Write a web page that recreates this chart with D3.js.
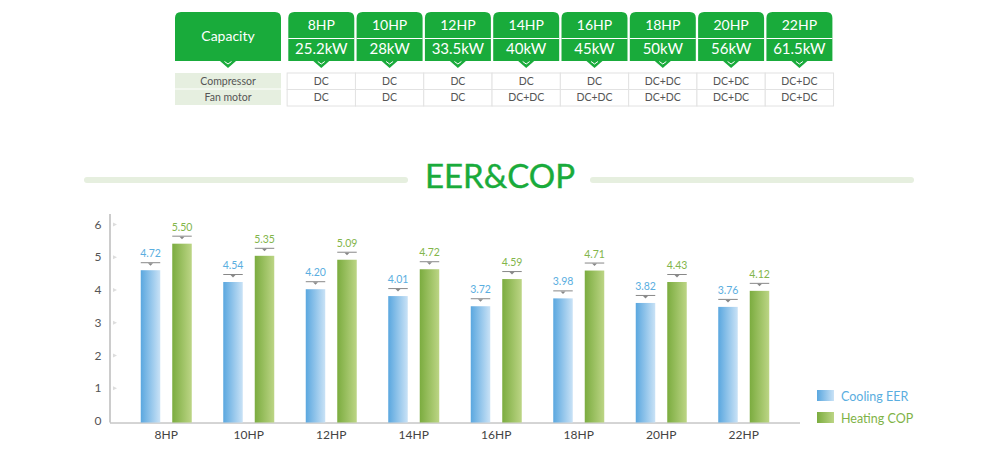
<!DOCTYPE html>
<html>
<head>
<meta charset="utf-8">
<script src="https://cdn.jsdelivr.net/npm/d3@7"></script>
<style>
  body { margin: 0; background: #fff; }
  svg { display: block; font-family: Lato, "Open Sans", sans-serif; }
</style>
</head>
<body>
<svg id="chart" width="1000" height="458"></svg>
<script>
// table data
const models = ['8HP', '10HP', '12HP', '14HP', '16HP', '18HP', '20HP', '22HP'];
const capacities = ['25.2kW', '28kW', '33.5kW', '40kW', '45kW', '50kW', '56kW', '61.5kW'];
const compressor = ['DC', 'DC', 'DC', 'DC', 'DC', 'DC+DC', 'DC+DC', 'DC+DC'];
const fanMotor = ['DC', 'DC', 'DC', 'DC+DC', 'DC+DC', 'DC+DC', 'DC+DC', 'DC+DC'];

// chart data: printed labels and drawn bar heights (as in the picture)
const eerLabels = ['4.72', '4.54', '4.20', '4.01', '3.72', '3.98', '3.82', '3.76'];
const copLabels = ['5.50', '5.35', '5.09', '4.72', '4.59', '4.71', '4.43', '4.12'];
const eerBars = [4.65, 4.29, 4.07, 3.86, 3.55, 3.79, 3.65, 3.53];
const copBars = [5.46, 5.09, 4.97, 4.68, 4.38, 4.64, 4.29, 4.02];
const yTicks = [0, 1, 2, 3, 4, 5, 6];
const series = ['Cooling EER', 'Heating COP'];

const green = '#19ab3b';
const svg = d3.select('#chart');

// gradients
const defs = svg.append('defs');
const grad = (id, c1, c2) => {
  const g = defs.append('linearGradient').attr('id', id)
    .attr('x1', '0%').attr('x2', '100%').attr('y1', '0%').attr('y2', '0%');
  g.append('stop').attr('offset', '0%').attr('stop-color', c1);
  g.append('stop').attr('offset', '100%').attr('stop-color', c2);
};
grad('gBlue', '#5aa7df', '#c9e2f6');
grad('gGreen', '#7bac3f', '#bcd585');

// ---------- spec table ----------
const col = d3.scaleBand().domain(models).range([288.3, 832.4]).paddingInner(0.034);
const topY = 12, boxH = 49, r = 6;

const topRounded = (x, y, w, h) =>
  `M${x},${y + h} V${y + r} Q${x},${y} ${x + r},${y} H${x + w - r} Q${x + w},${y} ${x + w},${y + r} V${y + h} Z`;

const chevron = (cx, y) => {
  svg.append('path')
    .attr('d', `M${cx - 8},${y} L${cx + 8},${y} L${cx},${y + 7} Z`)
    .attr('fill', green);
  svg.append('path')
    .attr('d', `M${cx - 3.5},${y + 0.5} L${cx},${y + 3} L${cx + 3.5},${y + 0.5}`)
    .attr('fill', 'none').attr('stroke', '#fff').attr('stroke-width', 1);
};

// capacity header
svg.append('path').attr('d', topRounded(175, topY, 106, boxH)).attr('fill', green);
chevron(228, topY + boxH);
svg.append('text').attr('x', 228).attr('y', 41)
  .attr('text-anchor', 'middle').attr('fill', '#fff').attr('font-size', 14)
  .text('Capacity');

const heads = svg.append('g').selectAll('g').data(models).join('g')
  .attr('transform', d => `translate(${col(d)},0)`);
heads.append('path').attr('d', topRounded(0, topY, col.bandwidth(), boxH)).attr('fill', green);
heads.append('line')
  .attr('x1', 0).attr('x2', col.bandwidth())
  .attr('y1', 38.5).attr('y2', 38.5)
  .attr('stroke', '#fff').attr('stroke-width', 1.2);
heads.append('text').attr('x', col.bandwidth() / 2).attr('y', 30)
  .attr('text-anchor', 'middle').attr('fill', '#fff').attr('font-size', 14)
  .text(d => d);
heads.append('text').attr('x', col.bandwidth() / 2).attr('y', 54)
  .attr('text-anchor', 'middle').attr('fill', '#fff').attr('font-size', 15)
  .text((d, i) => capacities[i]);
models.forEach(m => chevron(col(m) + col.bandwidth() / 2, topY + boxH));

// rows
const rows = [
  { name: 'Compressor', vals: compressor, y: 73 },
  { name: 'Fan motor', vals: fanMotor, y: 89.5 }
];
const rowH = 16.5;
rows.forEach(row => {
  svg.append('rect').attr('x', 175).attr('y', row.y).attr('width', 106).attr('height', rowH - 1)
    .attr('fill', '#e6efe0');
  svg.append('text').attr('x', 228).attr('y', row.y + 11.5)
    .attr('text-anchor', 'middle').attr('fill', '#555').attr('font-size', 10.5)
    .text(row.name);
  const cells = svg.append('g').selectAll('g').data(models).join('g')
    .attr('transform', d => `translate(${col(d) + col.bandwidth() / 2 - col.step() / 2},${row.y})`);
  cells.append('rect').attr('width', col.step()).attr('height', rowH)
    .attr('fill', '#fff').attr('stroke', '#e2e2e2').attr('stroke-width', 1);
  cells.append('text').attr('x', col.step() / 2).attr('y', 11.5)
    .attr('text-anchor', 'middle').attr('fill', '#555').attr('font-size', 10.5)
    .text((d, i) => row.vals[i]);
});

// ---------- title ----------
svg.append('line').attr('x1', 87).attr('x2', 405).attr('y1', 180).attr('y2', 180)
  .attr('stroke', '#e6efdf').attr('stroke-width', 6).attr('stroke-linecap', 'round');
svg.append('line').attr('x1', 593).attr('x2', 911).attr('y1', 180).attr('y2', 180)
  .attr('stroke', '#e6efdf').attr('stroke-width', 6).attr('stroke-linecap', 'round');
svg.append('text').attr('x', 500).attr('y', 188)
  .attr('text-anchor', 'middle').attr('fill', green).attr('font-size', 33)
  .attr('stroke', green).attr('stroke-width', 0.4)
  .text('EER&COP');

// ---------- bar chart ----------
const x = d3.scaleBand().domain(models).range([125, 785]);
const x1 = d3.scaleBand().domain(series)
  .range([x.bandwidth() / 2 - 25.5, x.bandwidth() / 2 + 25.5]).paddingInner(0.381);
const y = d3.scaleLinear().domain([0, 6]).range([422.5, 226]);

// y axis
svg.append('line').attr('x1', 110).attr('x2', 110).attr('y1', 214).attr('y2', y(0))
  .attr('stroke', '#999').attr('stroke-width', 1);
const yt = svg.append('g').selectAll('g').data(yTicks).join('g')
  .attr('transform', d => `translate(0,${y(d)})`);
yt.append('text').attr('x', 98).attr('y', 2.5)
  .attr('text-anchor', 'middle').attr('fill', '#555').attr('font-size', 12)
  .text(d => d);
yt.filter(d => d > 0).append('path')
  .attr('d', 'M113,-3.5 L117,-1.5 L113,0.5 Z').attr('fill', '#ddd');

// x axis
svg.append('line').attr('x1', 110).attr('x2', 800).attr('y1', y(0) + 0.5).attr('y2', y(0) + 0.5)
  .attr('stroke', '#aaa').attr('stroke-width', 1);
svg.append('g').attr('transform', `translate(0,${y(0)})`)
  .call(d3.axisBottom(x).tickSize(0).tickPadding(8))
  .call(g => g.select('.domain').remove())
  .call(g => g.selectAll('text').attr('fill', '#444').attr('font-size', 12)
    .attr('font-family', 'Lato, "Open Sans", sans-serif'));

const groupData = models.map((m, i) => ({
  model: m,
  items: [
    { key: series[0], v: eerBars[i], label: eerLabels[i], fill: 'url(#gBlue)', color: '#5aaee0' },
    { key: series[1], v: copBars[i], label: copLabels[i], fill: 'url(#gGreen)', color: '#82b54a' }
  ]
}));

const groups = svg.append('g').selectAll('g').data(groupData).join('g')
  .attr('transform', d => `translate(${x(d.model)},0)`);
const bars = groups.selectAll('g').data(d => d.items).join('g')
  .attr('transform', d => `translate(${x1(d.key)},0)`);
const bw = x1.bandwidth();
bars.append('rect')
  .attr('y', d => y(d.v)).attr('width', bw).attr('height', d => y(0) - y(d.v))
  .attr('fill', d => d.fill);
bars.append('line')
  .attr('x1', 0).attr('x2', bw)
  .attr('y1', d => y(d.v) - 7.5).attr('y2', d => y(d.v) - 7.5)
  .attr('stroke', '#888').attr('stroke-width', 1);
bars.append('path')
  .attr('d', d => `M${bw / 2 - 2.5},${y(d.v) - 7} L${bw / 2 + 2.5},${y(d.v) - 7} L${bw / 2},${y(d.v) - 4.5} Z`)
  .attr('fill', '#888');
bars.append('text')
  .attr('x', bw / 2).attr('y', d => y(d.v) - 13)
  .attr('text-anchor', 'middle').attr('font-size', 10.5)
  .attr('fill', d => d.color)
  .text(d => d.label);

// legend
const legend = svg.append('g').selectAll('g')
  .data([{ name: series[0], fill: 'url(#gBlue)', color: '#5aaee0' },
         { name: series[1], fill: 'url(#gGreen)', color: '#7fb347' }])
  .join('g').attr('transform', (d, i) => `translate(817,${390 + i * 22})`);
legend.append('rect').attr('width', 17).attr('height', 11).attr('fill', d => d.fill);
legend.append('text').attr('x', 24).attr('y', 10.5)
  .attr('fill', d => d.color).attr('font-size', 12.5)
  .text(d => d.name);
</script>
</body>
</html>
